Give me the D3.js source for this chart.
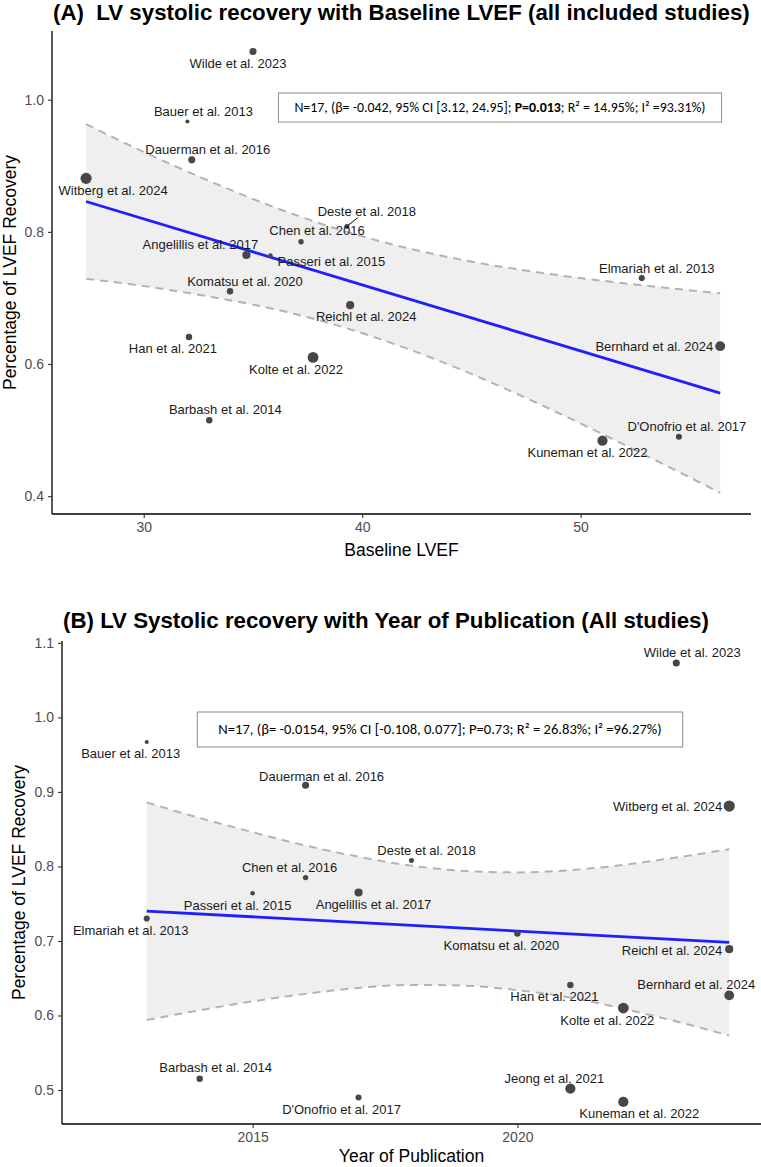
<!DOCTYPE html>
<html>
<head>
<meta charset="utf-8">
<script src="https://cdn.jsdelivr.net/npm/d3@7"></script>
<style>
  body { margin: 0; background: #fff; }
  svg { display: block; font-family: Arial, "Liberation Sans", sans-serif; }
</style>
</head>
<body>
<svg id="chart" width="761" height="1167"></svg>
<script>
// study data (same studies in both panels, Jeong only in panel B)
const studies = ["Wilde et al. 2023", "Bauer et al. 2013", "Dauerman et al. 2016", "Witberg et al. 2024",
  "Deste et al. 2018", "Chen et al. 2016", "Angelillis et al. 2017", "Passeri et al. 2015",
  "Komatsu et al. 2020", "Reichl et al. 2024", "Han et al. 2021", "Kolte et al. 2022",
  "Barbash et al. 2014", "Elmariah et al. 2013", "Bernhard et al. 2024", "D'Onofrio et al. 2017",
  "Kuneman et al. 2022", "Jeong et al. 2021"];
const recovery = [1.073, 0.967, 0.909, 0.881, 0.808, 0.785, 0.765, 0.764, 0.710, 0.689, 0.641, 0.610,
  0.515, 0.730, 0.627, 0.490, 0.484, 0.502];
const baselineLVEF = [35.0, 32.0, 32.2, 27.36, 39.3, 37.2, 34.7, 35.8, 33.95, 39.45, 32.07, 37.75,
  33.0, 52.8, 56.39, 54.5, 51.0, null];
const pubYear = [2023, 2013, 2016, 2024, 2018, 2016, 2017, 2015, 2020, 2024, 2021, 2022,
  2014, 2013, 2024, 2017, 2022, 2021];
const weights = [12, 4, 12, 30, 6, 7, 16, 5, 10, 16, 10, 28, 10, 9, 23, 9, 25, 25];

// meta-regression fits and 95% bands, panel A (baseline LVEF)
const fitA_x = [27.36, 56.39];
const fitA_y = [0.846, 0.556];
const bandA_x = [27.36, 30, 33, 36, 39, 42, 45, 48, 51, 54, 56.39];
const bandA_lo = [0.729, 0.718, 0.702, 0.683, 0.657, 0.624, 0.585, 0.541, 0.494, 0.445, 0.405];
const bandA_hi = [0.963, 0.921, 0.877, 0.837, 0.803, 0.776, 0.755, 0.739, 0.726, 0.715, 0.707];

// panel B (year of publication)
const fitB_x = [2013, 2024];
const fitB_y = [0.740, 0.698];
const bandB_x = [2013, 2014, 2015, 2016, 2017, 2018, 2019, 2020, 2021, 2022, 2023, 2024];
const bandB_lo = [0.594, 0.607, 0.619, 0.629, 0.637, 0.641, 0.640, 0.634, 0.624, 0.609, 0.592, 0.573];
const bandB_hi = [0.886, 0.865, 0.846, 0.828, 0.813, 0.801, 0.794, 0.792, 0.795, 0.802, 0.812, 0.823];

const ticksA_x = [30, 40, 50];
const ticksA_y = [0.4, 0.6, 0.8, 1.0];
const ticksB_x = [2015, 2020];
const ticksB_y = [0.5, 0.6, 0.7, 0.8, 0.9, 1.0, 1.1];

// label placement (repel-like offsets in px from the point: dx, dy, anchor)
const labelsA = {
  "Wilde et al. 2023": [-15, 12], "Bauer et al. 2013": [16, -10], "Dauerman et al. 2016": [16, -10],
  "Witberg et al. 2024": [27, 12], "Deste et al. 2018": [20, -15, "middle", true],
  "Chen et al. 2016": [16, -11], "Angelillis et al. 2017": [-46, -10], "Passeri et al. 2015": [61, 6],
  "Komatsu et al. 2020": [15, -10], "Reichl et al. 2024": [16, 11], "Han et al. 2021": [-16, 12],
  "Kolte et al. 2022": [-17, 12], "Barbash et al. 2014": [16, -11], "Elmariah et al. 2013": [15, -10],
  "Bernhard et al. 2024": [-7, 0, "end"], "D'Onofrio et al. 2017": [8, -10], "Kuneman et al. 2022": [-15, 12]
};
const labelsB = {
  "Wilde et al. 2023": [16, -10], "Bauer et al. 2013": [-16, 12], "Dauerman et al. 2016": [16, -9],
  "Witberg et al. 2024": [-7, 0, "end"], "Deste et al. 2018": [15, -10], "Chen et al. 2016": [-16, -10],
  "Passeri et al. 2015": [-15, 12], "Angelillis et al. 2017": [15, 12], "Elmariah et al. 2013": [-16, 12],
  "Komatsu et al. 2020": [-16, 12], "Reichl et al. 2024": [-7, 1, "end"], "Han et al. 2021": [-16, 12],
  "Bernhard et al. 2024": [-33, -11], "Kolte et al. 2022": [-16, 12], "Barbash et al. 2014": [16, -11],
  "D'Onofrio et al. 2017": [-17, 12], "Jeong et al. 2021": [-16, -10], "Kuneman et al. 2022": [16, 12]
};

const svg = d3.select("#chart");
const rScale = d3.scaleSqrt().domain([0, 30]).range([0, 5.6]);

function drawPanel(cfg) {
  const x = d3.scaleLinear().domain(cfg.xDomain).range([cfg.left, cfg.right]);
  const y = d3.scaleLinear().domain(cfg.yDomain).range([cfg.bottom, cfg.top]);
  const g = svg.append("g");

  // title
  g.append("text")
    .attr("x", cfg.left + 1).attr("y", cfg.titleY)
    .attr("font-size", 22.3).attr("font-weight", "bold")
    .style("white-space", "pre")
    .text(cfg.title);

  // confidence band
  const band = cfg.bandX.map((d, i) => ({ x: d, lo: cfg.bandLo[i], hi: cfg.bandHi[i] }));
  g.append("path").datum(band)
    .attr("fill", "#efefef")
    .attr("d", d3.area().x(d => x(d.x)).y0(d => y(d.lo)).y1(d => y(d.hi)).curve(d3.curveMonotoneX));
  ["lo", "hi"].forEach(k => {
    g.append("path").datum(band)
      .attr("fill", "none").attr("stroke", "#b3b3b3").attr("stroke-width", 2)
      .attr("stroke-dasharray", "8,6")
      .attr("d", d3.line().x(d => x(d.x)).y(d => y(d[k])).curve(d3.curveMonotoneX));
  });

  // fitted line
  g.append("path").datum(cfg.fitX.map((d, i) => [d, cfg.fitY[i]]))
    .attr("fill", "none").attr("stroke", "#1f1fff").attr("stroke-width", 2.8)
    .attr("d", d3.line().x(d => x(d[0])).y(d => y(d[1])));

  const pts = studies.map((s, i) => ({ s, xv: cfg.xVals[i], yv: recovery[i], w: weights[i] }))
    .filter(d => d.xv != null);

  // points
  g.selectAll(".pt").data(pts).enter().append("circle")
    .attr("cx", d => x(d.xv)).attr("cy", d => y(d.yv))
    .attr("r", d => rScale(d.w))
    .attr("fill", "#474747");

  // labels
  pts.forEach(d => {
    const p = cfg.labels[d.s];
    if (!p) return;
    const px = x(d.xv), py = y(d.yv);
    if (p[3]) {
      g.append("line")
        .attr("x1", px + 1).attr("y1", py - 1)
        .attr("x2", px + p[0] - 9).attr("y2", py + p[1] + 6)
        .attr("stroke", "#000").attr("stroke-width", 1);
    }
    g.append("text")
      .attr("x", px + p[0]).attr("y", py + p[1] + 4.5)
      .attr("text-anchor", p[2] || "middle")
      .attr("font-size", 13).attr("fill", "#1a1a1a")
      .text(d.s);
  });

  // annotation box
  const ann = g.append("text")
    .attr("x", cfg.annX).attr("y", cfg.annY + cfg.annFont * 0.34)
    .attr("text-anchor", "middle")
    .attr("font-family", "Carlito, Calibri, Lato, sans-serif")
    .attr("font-size", cfg.annFont);
  cfg.annParts.forEach(part => {
    ann.append("tspan").attr("font-weight", part.b ? "bold" : "normal").text(part.t);
  });
  const bb = ann.node().getBBox();
  g.append("rect")
    .attr("x", bb.x - cfg.annPad).attr("y", cfg.annY - cfg.annH / 2)
    .attr("width", bb.width + 2 * cfg.annPad).attr("height", cfg.annH)
    .attr("fill", "#fff").attr("stroke", "#8c8c8c").attr("stroke-width", 1);
  ann.raise();

  // axes
  const xAxis = g.append("g").attr("transform", `translate(0,${cfg.bottom})`)
    .call(d3.axisBottom(x).tickValues(cfg.xTicks).tickSize(4).tickPadding(4).tickFormat(d3.format("d")));
  const yAxis = g.append("g").attr("transform", `translate(${cfg.left},0)`)
    .call(d3.axisLeft(y).tickValues(cfg.yTicks).tickSize(4).tickPadding(4).tickFormat(d3.format(".1f")));
  [xAxis, yAxis].forEach(ax => {
    ax.select(".domain").attr("stroke", "#000").attr("stroke-width", 1.3);
    ax.selectAll(".tick line").attr("stroke", "#333").attr("stroke-width", 1.1);
    ax.selectAll(".tick text").attr("fill", "#4d4d4d").attr("font-size", 14)
      .attr("font-family", "Arial, 'Liberation Sans', sans-serif");
  });
  xAxis.select(".domain").attr("d", `M${cfg.left},0H${cfg.right}`);
  yAxis.select(".domain").attr("d", `M0,${cfg.top}V${cfg.bottom}`);

  // axis titles
  g.append("text")
    .attr("x", (cfg.left + cfg.right) / 2).attr("y", cfg.xTitleY)
    .attr("text-anchor", "middle").attr("font-size", 17.5)
    .text(cfg.xTitle);
  g.append("text")
    .attr("transform", `translate(${cfg.yTitleX},${(cfg.top + cfg.bottom) / 2}) rotate(-90)`)
    .attr("text-anchor", "middle").attr("font-size", 17.5)
    .text("Percentage of LVEF Recovery");
}

drawPanel({
  title: "(A)  LV systolic recovery with Baseline LVEF (all included studies)", titleY: 20,
  left: 52, right: 751, top: 31, bottom: 514,
  xDomain: [25.8, 57.8], yDomain: [0.373, 1.104],
  xVals: baselineLVEF, xTicks: ticksA_x, yTicks: ticksA_y,
  bandX: bandA_x, bandLo: bandA_lo, bandHi: bandA_hi, fitX: fitA_x, fitY: fitA_y,
  labels: labelsA,
  annX: 500, annY: 107.5, annH: 29, annPad: 16, annFont: 13.9,
  annParts: [{ t: "N=17, (β= -0.042, 95% CI [3.12, 24.95]; " }, { t: "P=0.013", b: true },
    { t: "; R² = 14.95%; I² =93.31%)" }],
  xTitle: "Baseline LVEF", xTitleY: 556, yTitleX: 16
});

drawPanel({
  title: "(B) LV Systolic recovery with Year of Publication (All studies)", titleY: 628,
  left: 62, right: 761, top: 641, bottom: 1124,
  xDomain: [2011.4, 2024.6], yDomain: [0.4544, 1.1025],
  xVals: pubYear, xTicks: ticksB_x, yTicks: ticksB_y,
  bandX: bandB_x, bandLo: bandB_lo, bandHi: bandB_hi, fitX: fitB_x, fitY: fitB_y,
  labels: labelsB,
  annX: 440, annY: 729.5, annH: 35, annPad: 21, annFont: 14.6,
  annParts: [{ t: "N=17, (β= -0.0154, 95% CI [-0.108, 0.077]; P=0.73; R² = 26.83%; I² =96.27%)" }],
  xTitle: "Year of Publication", xTitleY: 1162, yTitleX: 25
});
</script>
</body>
</html>
